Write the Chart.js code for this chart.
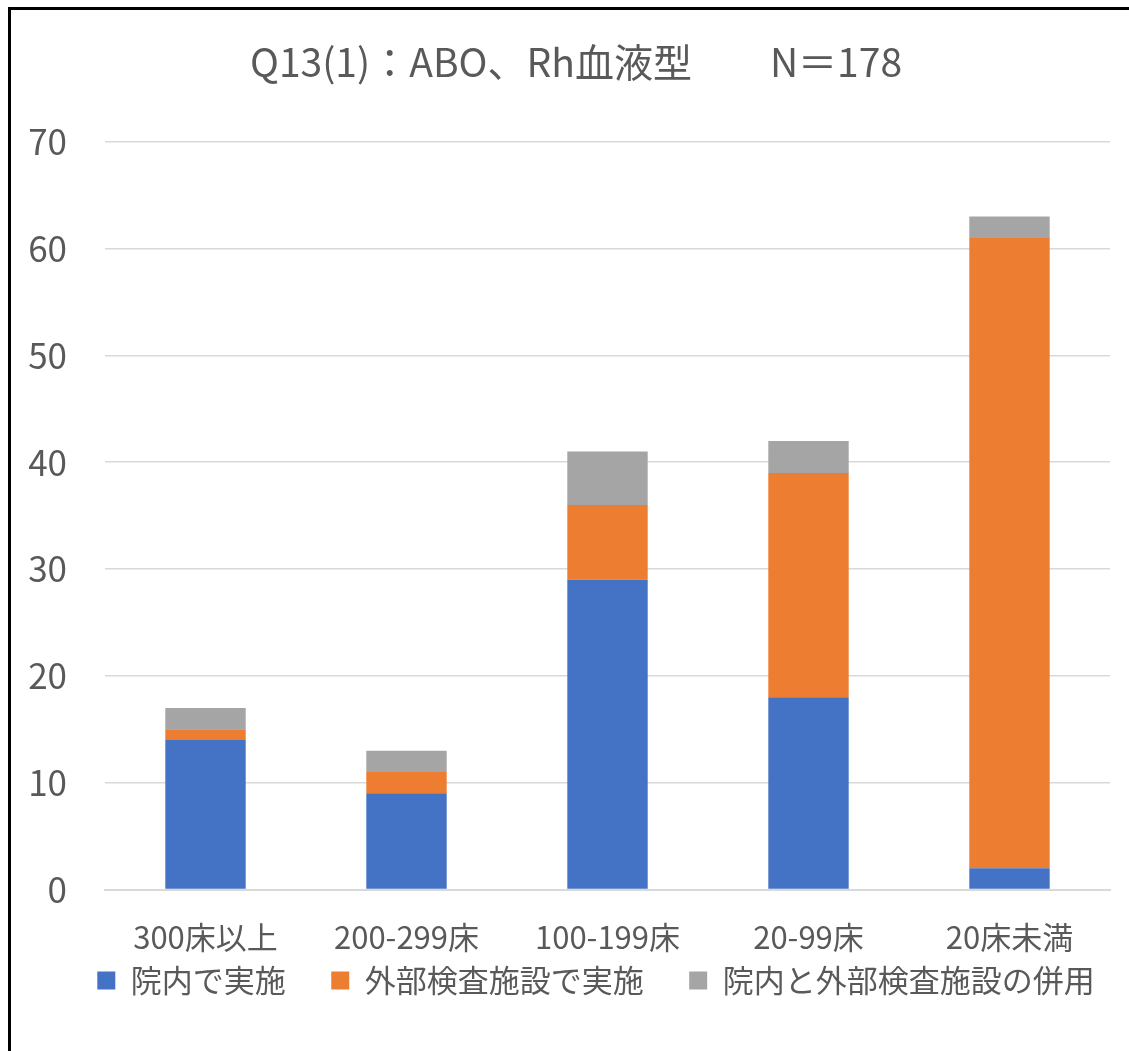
<!DOCTYPE html>
<html lang="ja">
<head>
<meta charset="utf-8">
<script src="https://cdn.jsdelivr.net/npm/chart.js@4.4.1/dist/chart.umd.min.js"></script>
<style>
  html, body { margin: 0; padding: 0; background: #fff; }
  #frame {
    position: absolute; left: 8px; top: 7px; right: -10px; bottom: -10px;
    border-left: 3px solid #000; border-top: 3px solid #000;
  }
  #wrap { position: absolute; left: 0; top: 0; width: 1129px; height: 1051px; }
</style>
</head>
<body>
<div id="frame"></div>
<div id="wrap"><canvas id="chart"></canvas></div>
<script>
// カテゴリ（病床規模）
const categories = ["300床以上", "200-299床", "100-199床", "20-99床", "20床未満"];
// 系列
const inHouse  = [14, 9, 29, 18, 2];   // 院内で実施
const outside  = [1, 2, 7, 21, 59];    // 外部検査施設で実施
const combined = [2, 2, 5, 3, 2];      // 院内と外部検査施設の併用
const seriesNames = ["院内で実施", "外部検査施設で実施", "院内と外部検査施設の併用"];
const yTicks = [0, 10, 20, 30, 40, 50, 60, 70];

const FONT = "'Noto Sans CJK JP', 'Noto Sans', sans-serif";
const TEXT = "#595959";

// タイトルと凡例を少し右へ寄せる（元図はプロット領域中央に揃っている）
const nudge = {
  id: "nudge",
  afterLayout(chart) {
    const lg = chart.legend, tb = chart.titleBlock;
    if (lg) { lg.left += 31; lg.right += 31; }
    if (tb) { tb.left += 11; tb.right += 11; }
  }
};

new Chart(document.getElementById("chart"), {
  type: "bar",
  data: {
    labels: categories,
    datasets: [
      { label: seriesNames[0], data: inHouse,  backgroundColor: "#4472C4" },
      { label: seriesNames[1], data: outside,  backgroundColor: "#ED7D31" },
      { label: seriesNames[2], data: combined, backgroundColor: "#A5A5A5" }
    ]
  },
  plugins: [nudge],
  options: {
    responsive: true,
    maintainAspectRatio: false,
    animation: false,
    datasets: { bar: { barPercentage: 0.4, categoryPercentage: 1.0 } },
    layout: { padding: { left: 20, right: 19, top: 0, bottom: 45 } },
    plugins: {
      title: {
        display: true,
        text: "Q13(1)：ABO、Rh血液型　　N＝178",
        color: TEXT,
        font: { family: FONT, size: 39, weight: "normal" },
        padding: { top: 39, bottom: 56 }
      },
      legend: {
        position: "bottom",
        labels: {
          color: TEXT,
          font: { family: FONT, size: 31 },
          boxWidth: 18,
          boxHeight: 18,
          padding: 7.5,
          generateLabels: chart => {
            const items = Chart.defaults.plugins.legend.labels.generateLabels(chart);
            // 項目間の余白を広げる（最後の項目以外に空白を付ける）
            items.forEach((it, i) => { if (i < items.length - 1) it.text += "\u3000 "; });
            return items;
          }
        }
      },
      tooltip: { enabled: false }
    },
    scales: {
      x: {
        stacked: true,
        afterFit: s => { s.height = 68; },
        grid: { display: false, drawTicks: false },
        border: { color: "#D9D9D9", width: 2 },
        ticks: { color: TEXT, font: { family: FONT, size: 31 }, padding: 29, maxRotation: 0 }
      },
      y: {
        stacked: true,
        min: 0,
        max: 70,
        afterBuildTicks: s => { s.ticks = yTicks.map(v => ({ value: v })); },
        afterFit: s => { s.width = 85; },
        grid: { color: "#D9D9D9", lineWidth: 1.5, drawTicks: false },
        border: { display: false },
        ticks: { color: TEXT, font: { family: FONT, size: 35 }, padding: 38 }
      }
    }
  }
});
</script>
</body>
</html>
